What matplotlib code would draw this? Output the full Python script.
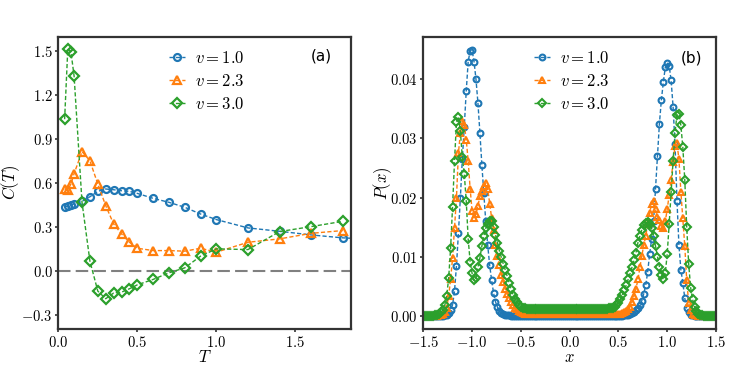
import numpy as np
import matplotlib
matplotlib.use('Agg')
import matplotlib.pyplot as plt
from matplotlib.ticker import FuncFormatter

plt.rcParams['mathtext.fontset'] = 'cm'

# ---- panel (a): C(T) ----
T_blue = [0.04, 0.06, 0.08, 0.10, 0.15, 0.20, 0.25, 0.30, 0.35, 0.40, 0.45,
          0.50, 0.60, 0.70, 0.80, 0.90, 1.00, 1.20, 1.40, 1.60, 1.80, 2.00]
C_blue = [0.434, 0.443, 0.450, 0.457, 0.475, 0.506, 0.543, 0.559, 0.554, 0.547, 0.543,
          0.529, 0.495, 0.468, 0.434, 0.388, 0.350, 0.293, 0.270, 0.245, 0.225, 0.215]
T_other = [0.04, 0.06, 0.08, 0.10, 0.15, 0.20, 0.25, 0.30, 0.35, 0.40, 0.45,
           0.50, 0.60, 0.70, 0.80, 0.90, 1.00, 1.20, 1.40, 1.60, 1.80]
C_orange = [0.559, 0.552, 0.593, 0.664, 0.815, 0.752, 0.593, 0.445, 0.320, 0.252, 0.195,
            0.154, 0.138, 0.138, 0.134, 0.154, 0.127, 0.195, 0.218, 0.256, 0.275]
C_green = [1.036, 1.515, 1.497, 1.330, 0.468, 0.066, -0.139, -0.191, -0.152, -0.146, -0.123,
           -0.096, -0.059, -0.014, 0.020, 0.100, 0.150, 0.145, 0.268, 0.302, 0.338]

# ---- panel (b): P(x), x from -1.5 to 1.5 in steps of 0.02 ----
x = np.linspace(-1.5, 1.5, 151)
P_blue = [
    0, 0, 0, 0, 0, 0, 0, 0, 0, 0,                                                  # -1.50..-1.32
    0.0000, 0.0001, 0.0002, 0.0005, 0.0010, 0.0019, 0.0042, 0.0085, 0.0140, 0.0200,  # -1.30..-1.12
    0.0265, 0.0320, 0.0380, 0.0430, 0.0448, 0.0449, 0.0430, 0.0400, 0.0360, 0.0310,  # -1.10..-0.92
    0.0256, 0.0208, 0.0160, 0.0120, 0.0086, 0.0061, 0.0039, 0.0024, 0.0015, 0.0009,  # -0.90..-0.72
    0.0005, 0.0003, 0.0002, 0.0001, 0.0001, 0, 0, 0, 0, 0,                          # -0.70..-0.52
    0, 0, 0, 0, 0, 0, 0, 0, 0, 0,
    0, 0, 0, 0, 0, 0, 0, 0, 0, 0,
    0, 0, 0, 0, 0, 0, 0, 0, 0, 0,
    0, 0, 0, 0, 0, 0, 0, 0, 0, 0,
    0, 0, 0, 0, 0, 0, 0, 0, 0, 0,                                                  # 0.30..0.48
    0, 0, 0, 0.0001, 0.0001, 0.0002, 0.0003, 0.0005, 0.0007, 0.0010,                 # 0.50..0.68
    0.0013, 0.0018, 0.0026, 0.0038, 0.0052, 0.0075, 0.0105, 0.0130, 0.0160, 0.0215,  # 0.70..0.88
    0.0270, 0.0325, 0.0365, 0.0395, 0.0420, 0.0428, 0.0423, 0.0398, 0.0354, 0.0290,  # 0.90..1.08
    0.0195, 0.0120, 0.0078, 0.0056, 0.0030, 0.0013, 0.0006, 0.0002, 0.0001, 0,       # 1.10..1.28
    0, 0, 0, 0, 0, 0, 0, 0, 0, 0, 0,                                               # 1.30..1.50
]
P_orange = [
    0, 0, 0, 0, 0, 0, 0, 0, 0.0001, 0.0002,
    0.0003, 0.0007, 0.0014, 0.0034, 0.0062, 0.0098, 0.0148, 0.0200, 0.0275, 0.0310,
    0.0329, 0.0323, 0.0298, 0.0262, 0.0215, 0.0178, 0.0166, 0.0172, 0.0186, 0.0202,
    0.0212, 0.0220, 0.0224, 0.0215, 0.0190, 0.0166, 0.0145, 0.0120, 0.0102, 0.0087,
    0.0070, 0.0058, 0.0046, 0.0037, 0.0030, 0.0023, 0.0018, 0.0014, 0.0011, 0.0008,
    0.0006, 0.0005, 0.0004, 0.0004, 0.0003, 0.0003, 0.0003, 0.0003, 0.0003, 0.0003,
    0.0003, 0.0003, 0.0003, 0.0003, 0.0003, 0.0003, 0.0003, 0.0003, 0.0003, 0.0003,
    0.0003, 0.0003, 0.0003, 0.0003, 0.0003, 0.0003, 0.0003, 0.0003, 0.0003, 0.0003,
    0.0003, 0.0003, 0.0003, 0.0003, 0.0003, 0.0003, 0.0003, 0.0003, 0.0003, 0.0003,
    0.0003, 0.0003, 0.0003, 0.0003, 0.0003, 0.0003, 0.0003, 0.0003, 0.0004, 0.0004,
    0.0004, 0.0004, 0.0005, 0.0007, 0.0009, 0.0012, 0.0016, 0.0024, 0.0034, 0.0046,
    0.0062, 0.0082, 0.0102, 0.0120, 0.0135, 0.0155, 0.0174, 0.0190, 0.0195, 0.0180,
    0.0168, 0.0162, 0.0152, 0.0148, 0.0160, 0.0180, 0.0205, 0.0230, 0.0260, 0.0288,
    0.0292, 0.0265, 0.0210, 0.0165, 0.0118, 0.0060, 0.0022, 0.0010, 0.0004, 0.0002,
    0.0001, 0, 0, 0, 0, 0, 0, 0, 0, 0, 0,
]
P_green = [
    0, 0, 0, 0, 0, 0, 0.0001, 0.0002, 0.0003, 0.0006,
    0.0010, 0.0018, 0.0034, 0.0064, 0.0115, 0.0185, 0.0262, 0.0328, 0.0337, 0.0312,
    0.0268, 0.0240, 0.0195, 0.0130, 0.0092, 0.0072, 0.0060, 0.0064, 0.0082, 0.0098,
    0.0118, 0.0135, 0.0148, 0.0156, 0.0161, 0.0160, 0.0150, 0.0137, 0.0124, 0.0110,
    0.0099, 0.0088, 0.0078, 0.0067, 0.0056, 0.0045, 0.0036, 0.0029, 0.0024, 0.0019,
    0.0016, 0.0014, 0.0013, 0.0012, 0.0012, 0.0012, 0.0012, 0.0012, 0.0012, 0.0012,
    0.0012, 0.0012, 0.0012, 0.0012, 0.0012, 0.0012, 0.0012, 0.0012, 0.0012, 0.0012,
    0.0012, 0.0012, 0.0012, 0.0012, 0.0012, 0.0012, 0.0012, 0.0012, 0.0012, 0.0012,
    0.0012, 0.0012, 0.0012, 0.0012, 0.0012, 0.0012, 0.0012, 0.0012, 0.0012, 0.0012,
    0.0012, 0.0012, 0.0012, 0.0012, 0.0012, 0.0013, 0.0013, 0.0014, 0.0016, 0.0019,
    0.0022, 0.0028, 0.0036, 0.0044, 0.0052, 0.0062, 0.0072, 0.0083, 0.0094, 0.0107,
    0.0124, 0.0135, 0.0146, 0.0154, 0.0157, 0.0159, 0.0156, 0.0148, 0.0136, 0.0118,
    0.0099, 0.0083, 0.0069, 0.0062, 0.0072, 0.0105, 0.0155, 0.0210, 0.0262, 0.0310,
    0.0340, 0.0341, 0.0322, 0.0285, 0.0230, 0.0150, 0.0088, 0.0048, 0.0028, 0.0016,
    0.0008, 0.0004, 0.0002, 0.0001, 0, 0, 0, 0, 0, 0, 0,
]

labels = [r'$v=1.0$', r'$v=2.3$', r'$v=3.0$']
colors = ['#1f77b4', '#ff7f0e', '#2ca02c']
markers = ['o', '^', 'D']

fig = plt.figure(figsize=(7.31, 3.66), dpi=100)
ax1 = fig.add_axes([58.3 / 731, 1 - 329.3 / 366, 292.4 / 731, 292.6 / 366])
ax2 = fig.add_axes([423.3 / 731, 1 - 329.3 / 366, 292.7 / 731, 292.6 / 366])

fmt1 = FuncFormatter(lambda v, p: f'${v:.1f}$')
fmt2 = FuncFormatter(lambda v, p: f'${v:.2f}$')

ax1.axhline(0, color='gray', lw=1.5, dashes=(6, 2.5))
data_a = [(T_blue, C_blue), (T_other, C_orange), (T_other, C_green)]
for (t, c), col, m, lab in zip(data_a, colors, markers, labels):
    ms = 6 if m == '^' else 5
    ax1.plot(t, c, ls='--', lw=1, color=col, marker=m, ms=ms, mfc='none',
             mew=1.6, label=lab, dashes=(3, 1.6))

ax1.set_xlim(0, 1.85)
ax1.set_ylim(-0.4, 1.6)
ax1.set_xticks([0.0, 0.5, 1.0, 1.5])
ax1.set_yticks([-0.3, 0.0, 0.3, 0.6, 0.9, 1.2, 1.5])
ax1.xaxis.set_major_formatter(fmt1)
ax1.yaxis.set_major_formatter(fmt1)
ax1.set_xlabel(r'$T$', fontsize=12, labelpad=-1)
ax1.set_ylabel(r'$C(T)$', fontsize=12)
ax1.yaxis.set_label_coords(-0.124, 0.5)
ax1.text(0.9, 0.935, '(a)', transform=ax1.transAxes, ha='center', va='center', fontsize=11)

for p, col, m, lab in zip([P_blue, P_orange, P_green], colors, markers, labels):
    ms = 5 if m == '^' else 4.2
    ax2.plot(x, p, ls='--', lw=1, color=col, marker=m, ms=ms, mfc='none',
             mew=1.5, label=lab, dashes=(3, 1.6))

ax2.set_xlim(-1.5, 1.5)
ax2.set_ylim(-0.00225, 0.0472)
ax2.set_xticks([-1.5, -1.0, -0.5, 0.0, 0.5, 1.0, 1.5])
ax2.set_yticks([0.0, 0.01, 0.02, 0.03, 0.04])
ax2.xaxis.set_major_formatter(fmt1)
ax2.yaxis.set_major_formatter(fmt2)
ax2.set_xlabel(r'$x$', fontsize=12, labelpad=-1)
ax2.set_ylabel(r'$P(x)$', fontsize=12)
ax2.yaxis.set_label_coords(-0.100, 0.5)
ax2.text(0.917, 0.928, '(b)', transform=ax2.transAxes, ha='center', va='center', fontsize=11)

for ax in (ax1, ax2):
    for s in ax.spines.values():
        s.set_color('.2')
        s.set_linewidth(1.6)
    ax.tick_params(direction='out', length=2.5, width=1.2, color='.2', labelsize=10.5, pad=1.5)
    ax.legend(loc='upper left', bbox_to_anchor=(0.326, 1.01), frameon=False,
              fontsize=12, handlelength=1.0, handletextpad=0.6, labelspacing=0.3)

fig.savefig('out.png', dpi=100)
